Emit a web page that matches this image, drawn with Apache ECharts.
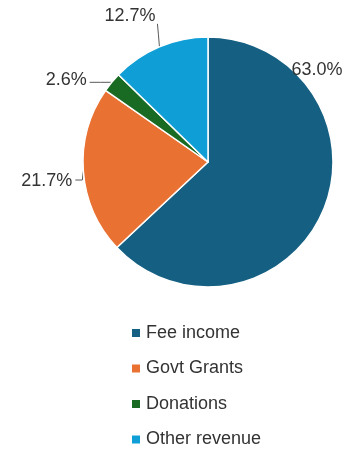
<!DOCTYPE html>
<html>
<head>
<meta charset="utf-8">
<script src="https://cdn.jsdelivr.net/npm/echarts@6/dist/echarts.min.js"></script>
<style>
html,body{margin:0;padding:0;background:#fff;}
#chart{width:351px;height:450px;}
</style>
</head>
<body>
<div id="chart"></div>
<script>
const categories = ['Fee income', 'Govt Grants', 'Donations', 'Other revenue'];
const shares = [63.0, 21.7, 2.6, 12.7];
const colors = ['#156082', '#E97132', '#196B24', '#0F9ED5'];

const CX = 208, CY = 162, R = 125;
const FONT = 'Liberation Sans, Arial, sans-serif';
const TEXT = '#333333';

const chart = echarts.init(document.getElementById('chart'), null, {renderer: 'canvas'});

const data = categories.map((name, i) => ({
  name: name,
  value: shares[i],
  itemStyle: {color: colors[i]},
  labelLine: {show: i !== 0}
}));

function layoutLabel(params) {
  const i = params.dataIndex;
  const p = params.labelLinePoints;
  if (i === 0) {
    return {x: CX + 109, y: CY - 92, align: 'center', verticalAlign: 'middle'};
  }
  const x0 = p[0][0], y0 = p[0][1];
  if (i === 1) {
    return {
      x: x0 - 11, y: y0 + 10, align: 'right', verticalAlign: 'middle',
      labelLinePoints: [[x0, y0], [x0 - 1, y0 + 9], [x0 - 8, y0 + 9]]
    };
  }
  if (i === 2) {
    return {
      x: x0 - 25, y: y0 - 2, align: 'right', verticalAlign: 'middle',
      labelLinePoints: [[x0, y0], [x0 - 11, y0], [x0 - 22, y0]]
    };
  }
  return {
    x: x0 - 4, y: y0 - 31, align: 'right', verticalAlign: 'middle',
    labelLinePoints: [[x0, y0], [x0 - 1, y0 - 12], [x0 - 2, y0 - 23]]
  };
}

chart.setOption({
  animation: false,
  backgroundColor: '#ffffff',
  color: colors,
  legend: {
    orient: 'vertical',
    left: 130,
    top: 324,
    padding: 0,
    icon: 'rect',
    itemWidth: 10,
    itemHeight: 10,
    itemGap: 17.5,
    selectedMode: false,
    textStyle: {fontFamily: FONT, fontSize: 18, color: TEXT, lineHeight: 18},
    data: categories
  },
  series: [{
    type: 'pie',
    center: [CX, CY],
    radius: R,
    startAngle: 90,
    clockwise: true,
    avoidLabelOverlap: false,
    silent: true,
    itemStyle: {borderColor: '#ffffff', borderWidth: 1.5},
    label: {
      show: true,
      position: 'outside',
      fontFamily: FONT,
      fontSize: 18,
      color: TEXT,
      formatter: p => p.value.toFixed(1) + '%'
    },
    labelLine: {show: true, length: 10, length2: 10, lineStyle: {color: '#595959', width: 1}},
    labelLayout: layoutLabel,
    emphasis: {disabled: true},
    data: data
  }]
});
</script>
</body>
</html>
